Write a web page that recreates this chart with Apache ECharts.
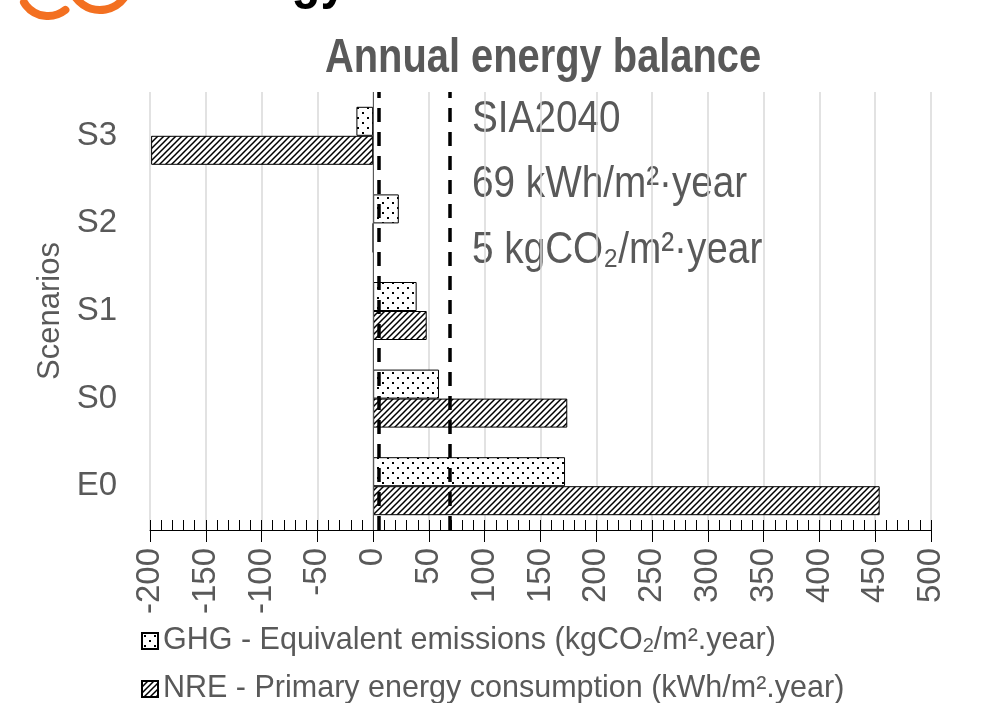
<!DOCTYPE html>
<html>
<head>
<meta charset="utf-8">
<title>Annual energy balance</title>
<script src="https://cdn.jsdelivr.net/npm/echarts@6/dist/echarts.min.js"></script>
<style>
  html, body { margin: 0; padding: 0; background: #fff; }
  #main { width: 991px; height: 703px; }
</style>
</head>
<body>
<div id="main"></div>
<script>
// data
var scenarios = ['E0', 'S0', 'S1', 'S2', 'S3'];
var ghgValues = [172, 59, 39, 23, -15];   // kgCO2/m².year
var nreValues = [454, 174, 48, 0, -199];  // kWh/m².year
var targetLines = [5, 69];                // SIA2040 targets
var xTicks = { min: -200, max: 500, step: 50 };

var FONT = "'Liberation Sans', Arial, sans-serif";
var GREY = '#595959';

// fill patterns
function dotPattern() {
  var c = document.createElement('canvas');
  c.width = 10; c.height = 10;
  var ctx = c.getContext('2d');
  ctx.fillStyle = '#fff';
  ctx.fillRect(0, 0, 10, 10);
  ctx.fillStyle = '#000';
  ctx.fillRect(2, 2, 2, 2);
  ctx.fillRect(7, 7, 2, 2);
  return c;
}
function hatchPattern() {
  var s = 6;
  var c = document.createElement('canvas');
  c.width = s; c.height = s;
  var ctx = c.getContext('2d');
  ctx.fillStyle = '#fff';
  ctx.fillRect(0, 0, s, s);
  ctx.strokeStyle = '#000';
  ctx.lineWidth = 1.5;
  ctx.beginPath();
  ctx.moveTo(-1, s + 1); ctx.lineTo(s + 1, -1);
  ctx.moveTo(-1, 1); ctx.lineTo(1, -1);
  ctx.moveTo(s - 1, s + 1); ctx.lineTo(s + 1, s - 1);
  ctx.stroke();
  return c;
}

var GHG = 'GHG - Equivalent emissions (kgCO2/m².year)';
var NRE = 'NRE - Primary energy consumption (kWh/m².year)';

function getOption() {
  var option = {
    backgroundColor: '#fff',
    animation: false,
    legend: {
      orient: 'vertical',
      left: 136,
      top: 619,
      height: 90,
      itemWidth: 16,
      itemHeight: 16,
      itemGap: 14,
      icon: 'rect',
      data: [GHG, NRE],
      formatter: function (name) {
        if (name === GHG) return 'GHG - Equivalent emissions (kgCO{sub|2}/m².year)';
        return name;
      },
      textStyle: {
        fontFamily: FONT, fontSize: 30.5, color: GREY, lineHeight: 34,
        rich: { sub: { fontFamily: FONT, fontSize: 20, color: GREY, lineHeight: 34, padding: [10, 0, 0, 0] } }
      }
    },
    grid: { left: 150, right: 60, top: 92, bottom: 173 },
    xAxis: [{
      type: 'value',
      min: xTicks.min,
      max: xTicks.max,
      interval: xTicks.step,
      axisLine: { show: true, onZero: false, lineStyle: { color: '#000', width: 1 } },
      axisTick: { show: true, inside: true, length: 10, lineStyle: { color: '#000' } },
      minorTick: { show: true, splitNumber: 5, length: 10, lineStyle: { color: '#000' } },
      splitLine: { show: true, lineStyle: { color: '#d9d9d9', width: 1.5 } },
      axisLabel: { rotate: 90, margin: 18, fontFamily: FONT, fontSize: 33, color: GREY }
    }, {
      type: 'value',
      position: 'bottom',
      min: xTicks.min,
      max: xTicks.max,
      interval: xTicks.step,
      axisLine: { show: false },
      axisTick: { show: true, inside: false, length: 12, lineStyle: { color: '#000' } },
      splitLine: { show: false },
      axisLabel: { show: false }
    }],
    yAxis: {
      type: 'category',
      data: scenarios,
      name: 'Scenarios',
      nameLocation: 'middle',
      nameRotate: 90,
      nameGap: 74,
      nameTextStyle: { fontFamily: FONT, fontSize: 31, color: GREY },
      axisLine: { show: false },
      axisTick: { show: false },
      axisLabel: { margin: 33, fontFamily: FONT, fontSize: 33, color: GREY }
    },
    graphic: [
      { type: 'text', x: 325, y: 35, scaleX: 0.83,
        style: { text: 'Annual energy balance', font: 'bold 48px ' + FONT, fill: GREY, verticalAlign: 'top' } },
      { type: 'text', x: 472, y: 97, scaleX: 0.86, style: { text: 'SIA2040', font: '45px ' + FONT, fill: GREY } },
      { type: 'text', x: 472, y: 162, scaleX: 0.86, style: { text: '69 kWh/m²·year', font: '45px ' + FONT, fill: GREY } },
      { type: 'text', x: 472, y: 228, scaleX: 0.86, style: { text: '5 kgCO₂/m²·year', font: '45px ' + FONT, fill: GREY } },
      // cropped logo and heading from the slide above
      { type: 'arc', shape: { cx: 48, cy: -12, r: 28, startAngle: 0.9, endAngle: 2.6 },
        style: { stroke: '#f37021', lineWidth: 8, fill: null, lineCap: 'round' } },
      { type: 'arc', shape: { cx: 100, cy: -20, r: 30, startAngle: 0.6, endAngle: 2.5 },
        style: { stroke: '#f37021', lineWidth: 8, fill: null, lineCap: 'round' } },
      { type: 'text', x: 347, y: 10, scaleX: 0.85,
        style: { text: 'gy', font: 'bold 56px ' + FONT, fill: '#000', align: 'right', verticalAlign: 'bottom' } }
    ],
    series: [{
      name: GHG,
      type: 'bar',
      data: ghgValues,
      barWidth: 29,
      barGap: '0%',
      itemStyle: { color: { image: dotPattern(), repeat: 'repeat' }, borderColor: '#000', borderWidth: 1 },
      markLine: {
        silent: true,
        symbol: ['none', 'none'],
        label: { show: false },
        lineStyle: { color: '#000', width: 3.5, type: [14, 10] },
        data: targetLines.map(function (v) { return { xAxis: v }; })
      }
    }, {
      name: NRE,
      type: 'bar',
      data: nreValues,
      barWidth: 29,
      barGap: '0%',
      itemStyle: { color: { image: hatchPattern(), repeat: 'repeat' }, borderColor: '#000', borderWidth: 1 },
      markLine: {
        silent: true,
        symbol: ['none', 'none'],
        label: { show: false },
        lineStyle: { color: GREY, width: 1, type: 'solid' },
        data: [{ xAxis: 0 }]
      }
    }]
  };
  return option;
}

var chart = echarts.init(document.getElementById('main'), null, { renderer: 'canvas' });
chart.setOption(getOption());
</script>
</body>
</html>
